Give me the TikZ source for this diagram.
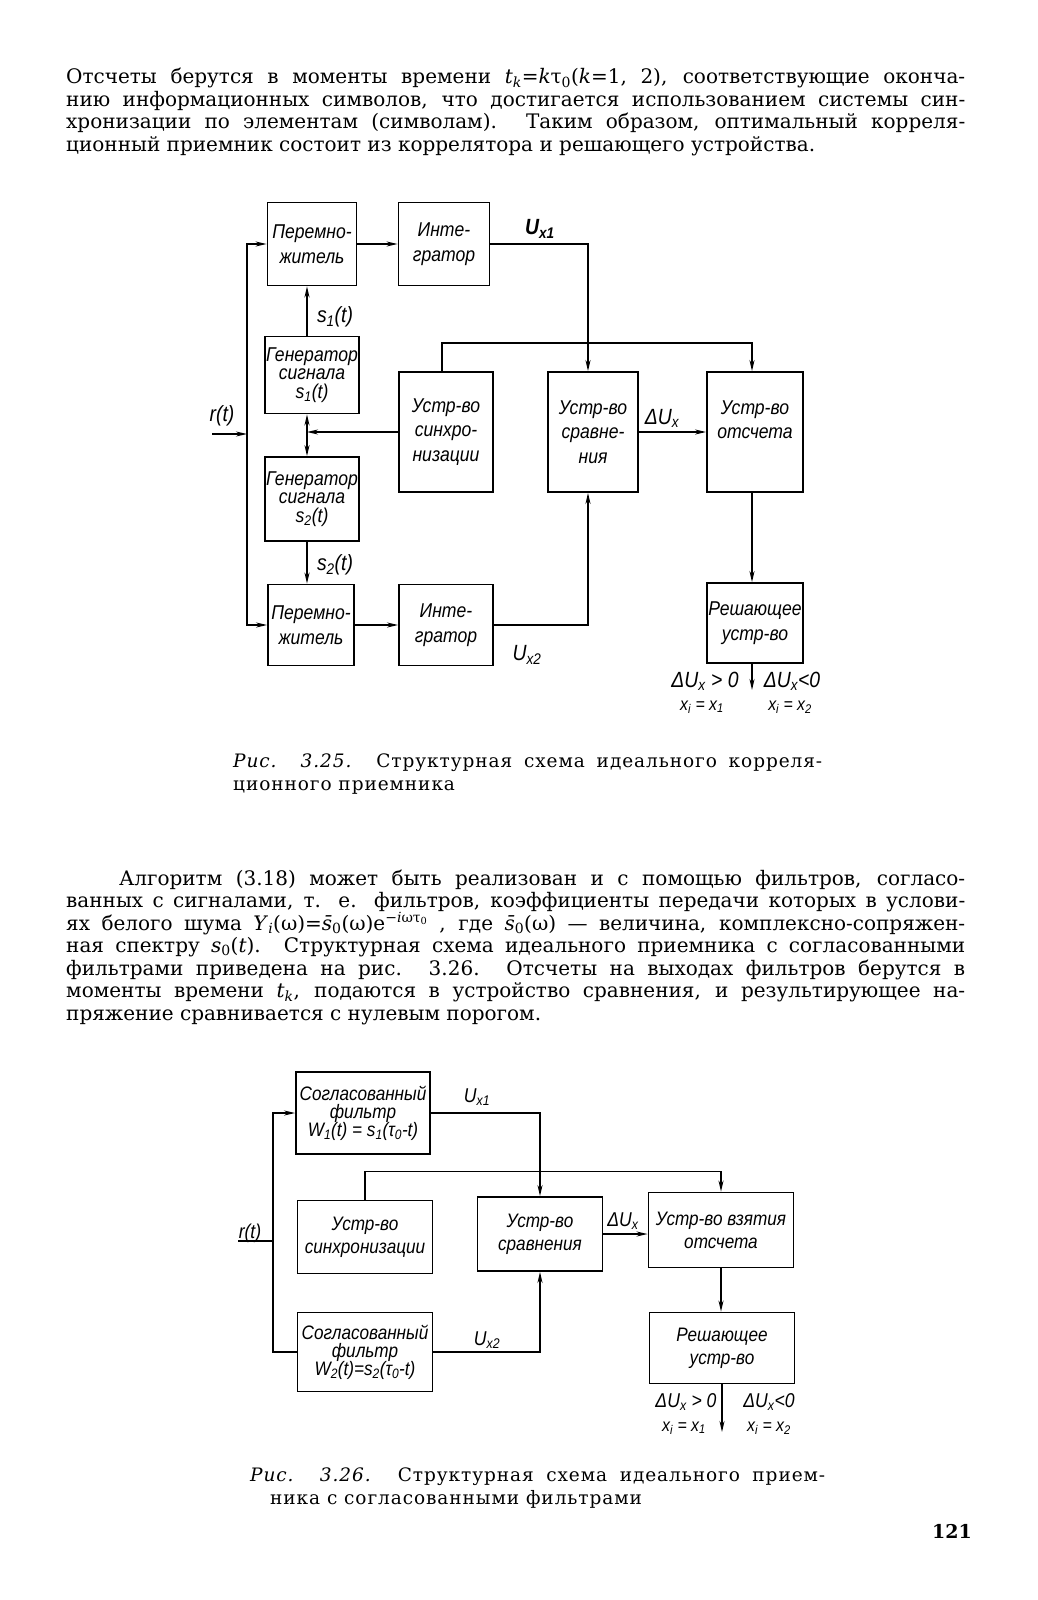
\documentclass[tikz,border=0pt]{standalone}
\usepackage{fontspec}
\setmainfont{DejaVu Serif}
\newfontfamily\gost{Liberation Sans}[FakeStretch=0.88]
\newfontfamily\captfont{DejaVu Serif}[LetterSpace=5]
\usetikzlibrary{arrows.meta}
\hyphenpenalty=10000
\tolerance=10000

\tikzset{
  blk/.style={draw, line width=1.8pt, inner sep=1pt, align=center,
    font=\gost\itshape\fontsize{20}{24.5}\selectfont},
  blkb/.style={blk, font=\gost\itshape\fontsize{19.5}{23}\selectfont},
  lbl/.style={inner sep=0pt, font=\gost\itshape\fontsize{22}{24}\selectfont},
  lblb/.style={inner sep=0pt, font=\gost\itshape\fontsize{20}{22}\selectfont},
  sml/.style={inner sep=0pt, font=\gost\itshape\fontsize{18}{20}\selectfont},
  wire/.style={line width=1.6pt},
  arr/.style={wire, -{Stealth[length=11pt,width=5pt]}},
  para/.style={anchor=base west, inner sep=0pt, text width=899pt, align=justify,
    font=\fontsize{20}{22.5}\selectfont},
  capt/.style={anchor=base west, inner sep=0pt, align=justify,
    font=\captfont\fontsize{18.5}{23.5}\selectfont},
}

\begin{document}
\begin{tikzpicture}[x=1pt,y=-1pt]

  \fill[white] (0,0) rectangle (1037,1600);
  \useasboundingbox (0,0) rectangle (1037,1600);

  % Text above the first figure
  \node[para] (par1) at (66,84) {Отсчеты берутся в моменты времени \textit{t}\textsubscript{\textit{k}}=\textit{k}τ\textsubscript{0}(\textit{k}=1,~2), соответствующие оконча-\linebreak
    нию информационных символов, что достигается использованием системы син-\linebreak
    хронизации по элементам (символам). Таким образом, оптимальный корреля-\linebreak
    ционный приемник состоит из коррелятора и решающего устройства.};

  % Fig. 3.25: blocks
  \node[blk, minimum width=89pt, minimum height=83pt] (mult1) at (312,244) {Перемно-\\житель};
  \node[blk, minimum width=91pt, minimum height=83pt] (int1) at (444,244) {Инте-\\гратор};
  \node[blk, minimum width=89pt, minimum height=77pt] (gen1) at (312,375) {Генератор\\[-6pt]сигнала\\[-6pt]s\textsubscript{1}(t)};
  \node[blk, minimum width=88pt, minimum height=84pt] (gen2) at (312,499) {Генератор\\[-6pt]сигнала\\[-6pt]s\textsubscript{2}(t)};
  \node[blk, minimum width=94pt, minimum height=120pt] (sync) at (446,432) {Устр-во\\синхро-\\низации};
  \node[blk, minimum width=90pt, minimum height=120pt] (cmp) at (593,432) {Устр-во\\сравне-\\ния};
  \node[blk, minimum width=96pt, minimum height=120pt] (smp) at (755,432) {Устр-во\\отсчета\\\mbox{}};
  \node[blk, minimum width=95pt, minimum height=80pt] (dec) at (755,623) {Решающее\\устр-во};
  \node[blk, minimum width=86pt, minimum height=81pt] (mult2) at (311,625) {Перемно-\\житель};
  \node[blk, minimum width=94pt, minimum height=81pt] (int2) at (446,625) {Инте-\\гратор};

  % Fig. 3.25: connections
  \coordinate (rin) at (212,434);
  \coordinate (bus) at (247,434);
  \coordinate (jn) at (307,432);
  \coordinate (out1) at (752,690);
  \draw[arr] (rin) -- (bus);
  \draw[arr] (bus) |- (mult1.west);
  \draw[arr] (bus) |- (mult2.west);
  \draw[arr] (mult1) -- (int1);
  \draw[arr] (mult2) -- (int2);
  \draw[arr] ([xshift=-5pt]gen1.north) -- ([xshift=-5pt]mult1.south);
  \draw[arr] ([xshift=-5pt]gen2.south) -- ([xshift=-4pt]mult2.north);
  \draw[arr, {Stealth[length=11pt,width=5pt]}-{Stealth[length=11pt,width=5pt]}] ([xshift=-5pt]gen1.south) -- ([xshift=-5pt]gen2.north);
  \draw[arr] (sync.west) -- (jn);
  \draw[arr] (int1.east) -| ([xshift=-5pt]cmp.north);
  \draw[arr] (int2.east) -| ([xshift=-5pt]cmp.south);
  \draw[arr] ([xshift=-4pt]sync.north) -- ++(0,-28) -| ([xshift=-3pt]smp.north);
  \draw[arr] (cmp) -- (smp);
  \draw[arr] ([xshift=-3pt]smp.south) -- ([xshift=-3pt]smp.south |- dec.north);
  \draw[arr] (dec.south -| out1) -- (out1);

  % Fig. 3.25: labels
  \node[lbl] (rlab) at (222,416) {r(t)};
  \node[lbl, font=\gost\itshape\bfseries\fontsize{22}{24}\selectfont] (ux1) at (540,229) {U\textsubscript{x1}};
  \node[lbl] (s1lab) at (335,317) {s\textsubscript{1}(t)};
  \node[lbl] (s2lab) at (335,565) {s\textsubscript{2}(t)};
  \node[lbl] (dulab) at (662,418) {ΔU\textsubscript{x}};
  \node[lbl] (ux2) at (527,655) {U\textsubscript{x2}};
  \node[lbl] (gt1) at (705,681) {ΔU\textsubscript{x} > 0};
  \node[lbl] (lt1) at (792,681) {ΔU\textsubscript{x}<0};
  \node[sml] (xi1) at (702,707) {x\textsubscript{i} = x\textsubscript{1}};
  \node[sml] (xi2) at (790,707) {x\textsubscript{i} = x\textsubscript{2}};

  \node[capt, text width=589pt] (cap1) at (233,767) {\textit{Рис. 3.25.} Структурная схема идеального корреля-\linebreak
    ционного приемника};

  % Text between the figures
  \node[para] (par2) at (66,885) {\hspace*{53pt}Алгоритм (3.18) может быть реализован и с помощью фильтров, согласо-\linebreak
    ванных с сигналами, т. е. фильтров, коэффициенты передачи которых в услови-\linebreak
    ях белого шума \textit{Y}\textsubscript{\textit{i}}(ω)=\textit{s̄}\textsubscript{0}(ω)e\textsuperscript{−\textit{i}ωτ\textsubscript{0}} , где \textit{s̄}\textsubscript{0}(ω) — величина, комплексно-сопряжен-\linebreak
    ная спектру \textit{s}\textsubscript{0}(\textit{t}). Структурная схема идеального приемника с согласованными\linebreak
    фильтрами приведена на рис. 3.26. Отсчеты на выходах фильтров берутся в\linebreak
    моменты времени \textit{t}\textsubscript{\textit{k}}, подаются в устройство сравнения, и результирующее на-\linebreak
    пряжение сравнивается с нулевым порогом.};

  % Fig. 3.26: blocks
  \node[blkb, minimum width=134pt, minimum height=82pt] (filt1) at (363,1113) {Согласованный\\[-5pt]фильтр\\[-5pt]W\textsubscript{1}(t) = s\textsubscript{1}(τ\textsubscript{0}-t)};
  \node[blkb, minimum width=135pt, minimum height=73pt] (sync2) at (365,1237) {Устр-во\\синхронизации};
  \node[blkb, minimum width=125pt, minimum height=74pt] (cmp2) at (540,1234) {Устр-во\\сравнения};
  \node[blkb, minimum width=145pt, minimum height=75pt] (smp2) at (721,1230) {Устр-во взятия\\отсчета};
  \node[blkb, minimum width=145pt, minimum height=71pt] (dec2) at (722,1348) {Решающее\\устр-во};
  \node[blkb, minimum width=135pt, minimum height=79pt] (filt2) at (365,1352) {Согласованный\\[-5pt]фильтр\\[-5pt]W\textsubscript{2}(t)=s\textsubscript{2}(τ\textsubscript{0}-t)};

  % Fig. 3.26: connections
  \coordinate (rin2) at (238,1241);
  \coordinate (bus2) at (273,1241);
  \coordinate (out2) at (722,1432);
  \draw[wire] (rin2) -- (bus2);
  \draw[arr] (bus2) |- (filt1.west);
  \draw[wire] (bus2) |- (filt2.west);
  \draw[arr] (filt1.east) -| (cmp2.north);
  \draw[arr] (filt2.east) -| (cmp2.south);
  \draw[arr] (sync2.north) -- ++(0,-28) -| (smp2.north);
  \draw[arr] (cmp2.east) -- (cmp2.east -| smp2.west);
  \draw[arr] (smp2.south) -- (smp2.south |- dec2.north);
  \draw[arr] (dec2.south -| out2) -- (out2);

  % Fig. 3.26: labels
  \node[lblb] (rlab2) at (250,1233) {r(t)};
  \node[lblb] (ux1b) at (477,1097) {U\textsubscript{x1}};
  \node[lblb] (ux2b) at (487,1340) {U\textsubscript{x2}};
  \node[lblb] (dulab2) at (623,1221) {ΔU\textsubscript{x}};
  \node[lblb] (gt2) at (686,1402) {ΔU\textsubscript{x} > 0};
  \node[lblb] (lt2) at (769,1402) {ΔU\textsubscript{x}<0};
  \node[sml] (xi3) at (684,1428) {x\textsubscript{i} = x\textsubscript{1}};
  \node[sml] (xi4) at (769,1428) {x\textsubscript{i} = x\textsubscript{2}};

  \node[capt, text width=575pt] (cap2) at (250,1481) {\textit{Рис. 3.26.} Структурная схема идеального прием-\linebreak
    \hspace*{20pt}ника с согласованными фильтрами};

  \node[inner sep=0pt, font=\bfseries\fontsize{19}{22}\selectfont] (pgnum) at (952,1531) {121};

\end{tikzpicture}
\end{document}
